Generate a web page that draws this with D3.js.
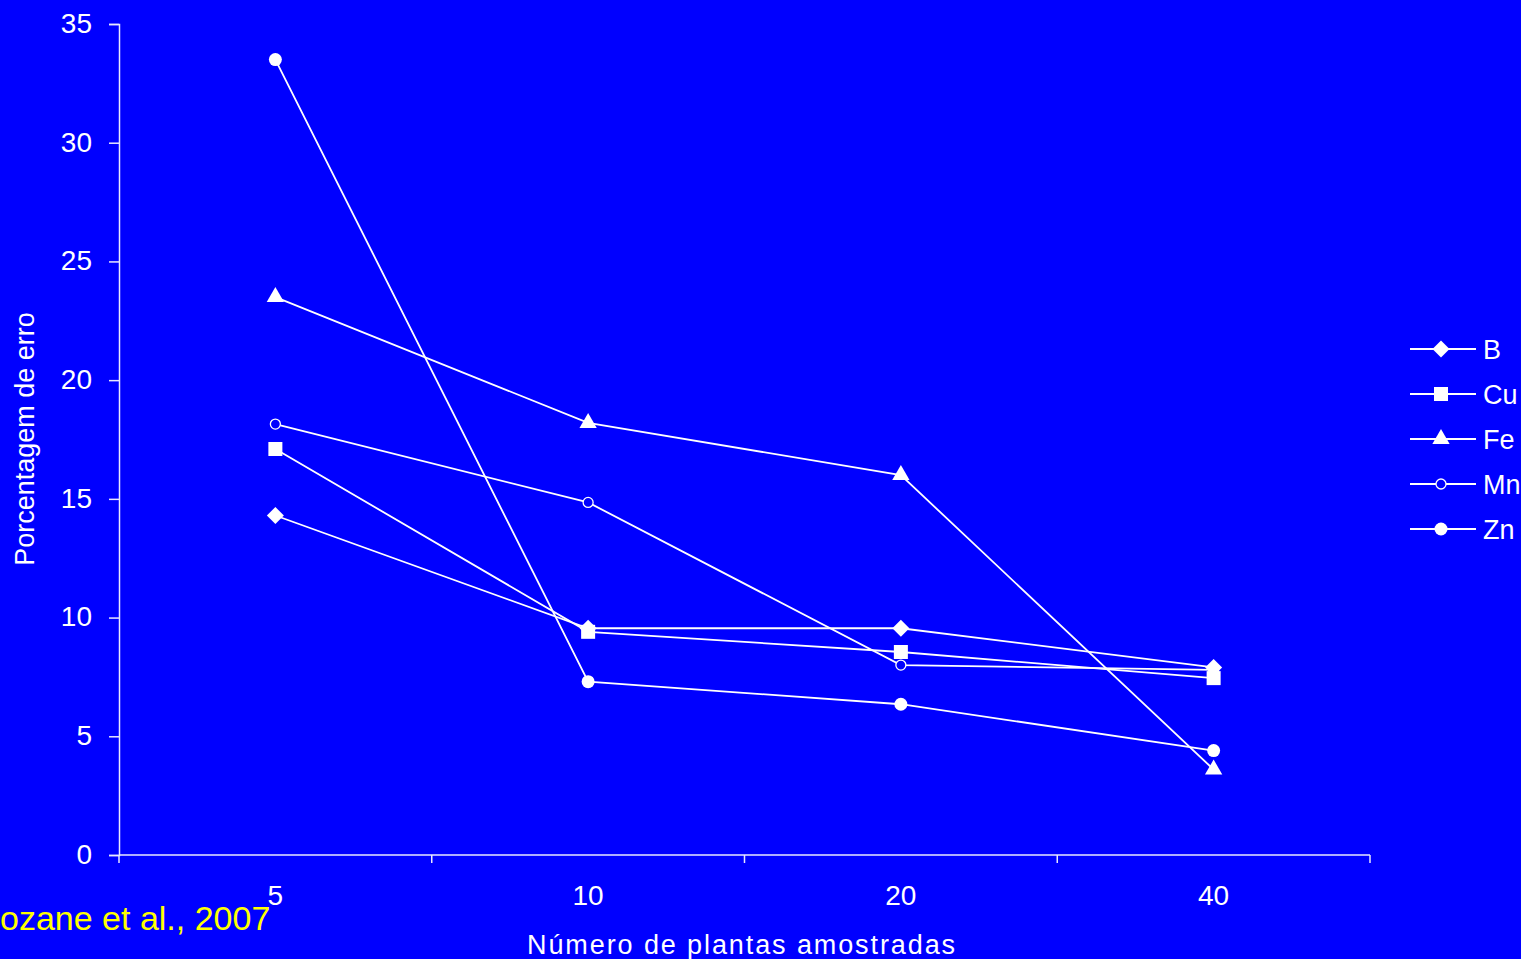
<!DOCTYPE html>
<html>
<head>
<meta charset="utf-8">
<script src="https://cdn.jsdelivr.net/npm/d3@7"></script>
<style>
  html, body { margin: 0; padding: 0; background: #0000ff; overflow: hidden; }
  svg { display: block; font-family: "Liberation Sans", Arial, sans-serif; }
</style>
</head>
<body>
<svg id="chart" width="1521" height="959"></svg>
<script>
// Sample sizes (number of plants) on the x axis
const categories = ["5", "10", "20", "40"];

// Percentage of error per nutrient
const seriesNames = ["B", "Cu", "Fe", "Mn", "Zn"];
const valuesB  = [14.3, 9.55, 9.55, 7.9];
const valuesCu = [17.1, 9.4, 8.55, 7.45];
const valuesFe = [23.5, 18.2, 16.0, 3.6];
const valuesMn = [18.15, 14.85, 8.0, 7.8];
const valuesZn = [33.5, 7.3, 6.35, 4.4];

const yTicks = [0, 5, 10, 15, 20, 25, 30, 35];

const symbols = { B: "diamond", Cu: "square", Fe: "triangle", Mn: "open", Zn: "circle" };
const valuesByName = { B: valuesB, Cu: valuesCu, Fe: valuesFe, Mn: valuesMn, Zn: valuesZn };
const series = seriesNames.map(n => ({ name: n, values: valuesByName[n], symbol: symbols[n] }));

const svg = d3.select("#chart");
const fg = "#ffffff";
const axisColor = "#e8e8ff";

const plot = { left: 119, right: 1370, top: 24, bottom: 855 };

const x = d3.scaleBand().domain(categories).range([plot.left, plot.right]).padding(0);
const y = d3.scaleLinear().domain([0, 35]).range([plot.bottom, plot.top]);

// Y axis
const yAxis = svg.append("g")
  .attr("transform", `translate(${plot.left},0)`)
  .call(d3.axisLeft(y).tickValues(yTicks).tickSize(10).tickPadding(17));
yAxis.select(".domain").attr("stroke", axisColor).attr("stroke-width", 1.5);
yAxis.selectAll(".tick line").attr("stroke", axisColor).attr("stroke-width", 1.5);
yAxis.selectAll(".tick text").attr("fill", fg).attr("font-size", 28).attr("dy", "0.3em");

// X axis: ticks sit on band boundaries, labels at band centres
const xAxisG = svg.append("g").attr("transform", `translate(0,${plot.bottom})`);
xAxisG.append("line")
  .attr("x1", plot.left).attr("x2", plot.right)
  .attr("stroke", axisColor).attr("stroke-width", 1.5);
const boundaries = categories.map(c => x(c)).concat([plot.right]);
xAxisG.selectAll("line.tk").data(boundaries).join("line")
  .attr("class", "tk")
  .attr("x1", d => d).attr("x2", d => d)
  .attr("y1", 0).attr("y2", 8)
  .attr("stroke", axisColor).attr("stroke-width", 1.5);
xAxisG.selectAll("text").data(categories).join("text")
  .attr("x", d => x(d) + x.bandwidth() / 2)
  .attr("y", 50)
  .attr("text-anchor", "middle")
  .attr("fill", fg).attr("font-size", 28)
  .text(d => d);

// Axis titles
svg.append("text")
  .attr("transform", "translate(34,439) rotate(-90)")
  .attr("text-anchor", "middle")
  .attr("fill", fg).attr("font-size", 27)
  .text("Porcentagem de erro");

svg.append("text")
  .attr("x", 742).attr("y", 954)
  .attr("text-anchor", "middle")
  .attr("fill", fg).attr("font-size", 27)
  .attr("letter-spacing", 1.9)
  .text("Número de plantas amostradas");

// Source note
svg.append("text")
  .attr("x", 0).attr("y", 930)
  .attr("fill", "#ffff00").attr("font-size", 34)
  .text("ozane et al., 2007");

const cx = d => x(d) + x.bandwidth() / 2;

function drawMarker(g, symbol, px, py) {
  if (symbol === "diamond") {
    g.append("rect").attr("x", -6).attr("y", -6).attr("width", 12).attr("height", 12)
      .attr("transform", `translate(${px},${py}) rotate(45)`).attr("fill", fg);
  } else if (symbol === "square") {
    g.append("rect").attr("x", px - 7).attr("y", py - 7)
      .attr("width", 14).attr("height", 14).attr("fill", fg);
  } else if (symbol === "triangle") {
    g.append("path").attr("d", d3.symbol(d3.symbolTriangle, 130)())
      .attr("transform", `translate(${px},${py})`).attr("fill", fg);
  } else if (symbol === "open") {
    g.append("circle").attr("cx", px).attr("cy", py).attr("r", 5)
      .attr("fill", "#0000ff").attr("stroke", fg).attr("stroke-width", 1.3);
  } else {
    g.append("circle").attr("cx", px).attr("cy", py).attr("r", 6.5).attr("fill", fg);
  }
}

const line = d3.line().x((d, i) => cx(categories[i])).y(d => y(d));

// Series lines
const linesG = svg.append("g");
series.forEach(s => {
  linesG.append("path").datum(s.values)
    .attr("d", line)
    .attr("fill", "none").attr("stroke", fg).attr("stroke-width", 1.8);
});

// Markers: open circles underneath, filled shapes on top
const markersG = svg.append("g");
const markerOrder = ["Mn", "B", "Cu", "Fe", "Zn"];
markerOrder.forEach(n => {
  const s = series.find(d => d.name === n);
  s.values.forEach((v, i) => drawMarker(markersG, s.symbol, cx(categories[i]), y(v)));
});

// Legend
const legend = svg.append("g");
series.forEach((s, i) => {
  const ly = 349 + i * 45;
  legend.append("line")
    .attr("x1", 1410).attr("x2", 1476).attr("y1", ly).attr("y2", ly)
    .attr("stroke", fg).attr("stroke-width", 1.8);
  drawMarker(legend, s.symbol, 1441, ly);
  legend.append("text")
    .attr("x", 1483).attr("y", ly + 10)
    .attr("fill", fg).attr("font-size", 27)
    .text(s.name);
});
</script>
</body>
</html>
